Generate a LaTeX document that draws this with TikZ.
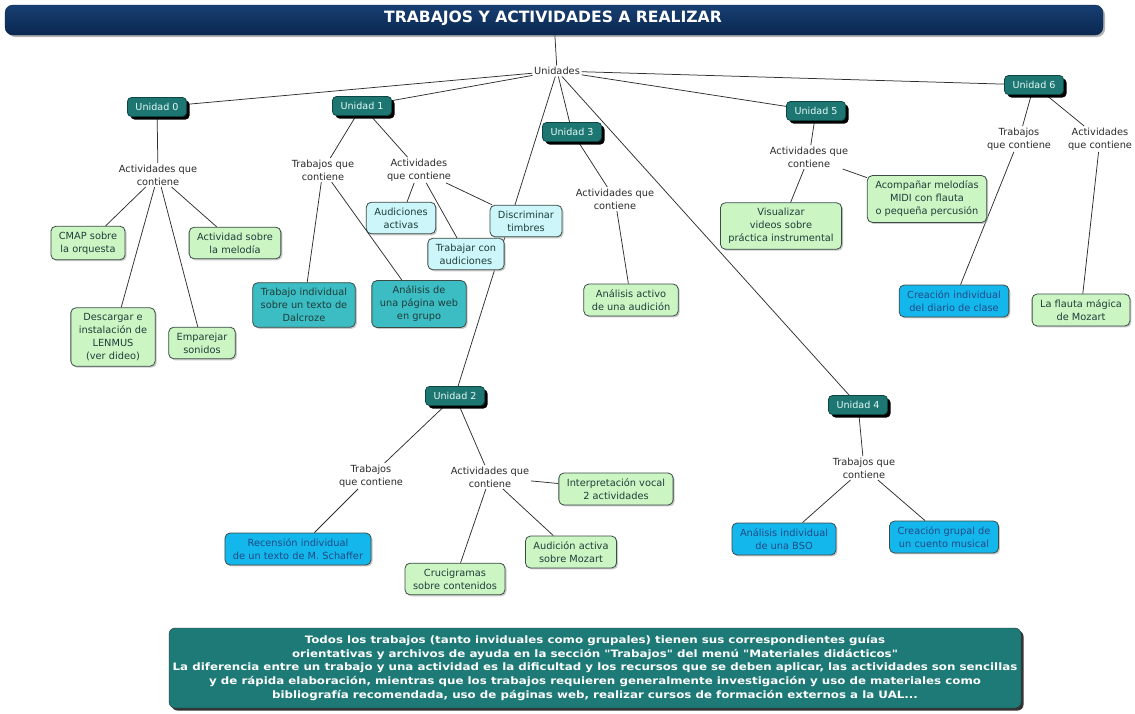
\documentclass[tikz,border=0pt]{standalone}
\usepackage{fontspec}
\setmainfont{DejaVu Sans}
\newfontfamily\widefont[FakeStretch=1.16]{DejaVu Sans}
\usetikzlibrary{shadows}
\pgfdeclarelayer{bg}
\pgfsetlayers{bg,main}
\definecolor{unitfill}{HTML}{1D7672}
\definecolor{unitdraw}{HTML}{0C4643}
\definecolor{unittext}{HTML}{E6FAF6}
\definecolor{greenfill}{HTML}{CCF5C4}
\definecolor{tealfill}{HTML}{3CBDC3}
\definecolor{cyanfill}{HTML}{CCF6FA}
\definecolor{bluefill}{HTML}{14B7EC}
\definecolor{boxdraw}{HTML}{3B4B45}
\definecolor{darktext}{HTML}{1F3D3A}
\definecolor{bluetext}{HTML}{1F4A85}
\definecolor{labeltext}{HTML}{2A2A2A}
\definecolor{linecol}{HTML}{2E2E2E}
\definecolor{titletop}{HTML}{173F72}
\definecolor{titlebot}{HTML}{0A2750}
\definecolor{bottomfill}{HTML}{1E7A77}
\tikzset{
  unit/.style={draw=unitdraw, fill=unitfill, rounded corners=4pt, text=unittext,
    font=\fontsize{9.6}{11}\selectfont, minimum height=19pt, inner xsep=8pt, inner ysep=2pt,
    line width=0.8pt, drop shadow={shadow xshift=3pt, shadow yshift=-3pt, fill=black, opacity=1}},
  box/.style={draw=boxdraw, rounded corners=5pt, align=center,
    font=\fontsize{9.8}{13}\selectfont, inner xsep=8pt, inner ysep=5.5pt, line width=0.8pt,
    drop shadow={shadow xshift=1.5pt, shadow yshift=-1.5pt, fill=black!35, opacity=0.6}},
  greenbox/.style={box, fill=greenfill, text=darktext},
  tealbox/.style={box, fill=tealfill, text=darktext},
  cyanbox/.style={box, fill=cyanfill, text=darktext},
  bluebox/.style={box, fill=bluefill, text=bluetext},
  lbl/.style={align=center, font=\fontsize{9.8}{13}\selectfont, text=labeltext, inner sep=1.5pt},
  conn/.style={draw=linecol, line width=0.75pt}
}
\begin{document}
\begin{tikzpicture}[x=1pt,y=-1pt]
\useasboundingbox (0,0) rectangle (1135,713);
% title
\node[draw=titlebot, top color=titletop, bottom color=titlebot, rounded corners=8pt,
  minimum width=1098pt, minimum height=30pt,
  drop shadow={shadow xshift=2pt, shadow yshift=-2pt, fill=black!50, opacity=0.6}] (title) at (554,20) {};
\node[text=white, font=\fontsize{15.6}{17}\bfseries] (titletext) at (553,18.5) {TRABAJOS Y ACTIVIDADES A REALIZAR};
\node[lbl] (unid) at (557,71) {Unidades};
% units
\node[unit] (u0) at (157,107) {Unidad 0};
\node[unit] (u1) at (362,106) {Unidad 1};
\node[unit] (u3) at (572,132) {Unidad 3};
\node[unit] (u5) at (816,111) {Unidad 5};
\node[unit] (u6) at (1034,85) {Unidad 6};
\node[unit] (u2) at (455,396) {Unidad 2};
\node[unit] (u4) at (858,405) {Unidad 4};
% unit 0
\node[lbl] (a0) at (158,175) {Actividades que\\contiene};
\node[greenbox] (cmap) at (88,243) {CMAP sobre\\la orquesta};
\node[greenbox] (melod) at (235,243) {Actividad sobre\\la melodía};
\node[greenbox] (lenmus) at (113,337) {Descargar e\\instalación de\\LENMUS\\(ver dideo)};
\node[greenbox] (empar) at (202,343) {Emparejar\\sonidos};
% unit 1
\node[lbl] (t1) at (323,170) {Trabajos que\\contiene};
\node[lbl] (a1) at (419,170) {Actividades\\que contiene};
\node[tealbox] (dalc) at (304,305) {Trabajo individual\\sobre un texto de\\Dalcroze};
\node[tealbox] (web) at (419,304) {Análisis de\\una página web\\en grupo};
\node[cyanbox] (audact) at (401,218) {Audiciones\\activas};
\node[cyanbox] (trabaud) at (466,254) {Trabajar con\\audiciones};
\node[cyanbox] (discr) at (526,221) {Discriminar\\timbres};
% unit 3
\node[lbl] (a3) at (615,199) {Actividades que\\contiene};
\node[greenbox] (analact) at (631,300) {Análisis activo\\de una audición};
% unit 5
\node[lbl] (a5) at (809,157) {Actividades que\\contiene};
\node[greenbox] (visual) at (781,226) {Visualizar\\videos sobre\\práctica instrumental};
\node[greenbox] (acomp) at (927,199) {Acompañar melodías\\MIDI con flauta\\o pequeña percusión};
% unit 6
\node[lbl] (t6) at (1019,139) {Trabajos\\que contiene};
\node[lbl] (a6) at (1100,139) {Actividades\\que contiene};
\node[bluebox] (diario) at (954,301) {Creación individual\\del diario de clase};
\node[greenbox] (flauta) at (1081,310) {La flauta mágica\\de Mozart};
% unit 2
\node[lbl] (t2) at (371,476) {Trabajos\\que contiene};
\node[lbl] (a2) at (490,477) {Actividades que\\contiene};
\node[bluebox] (recen) at (298,549) {Recensión individual\\de un texto de M. Schaffer};
\node[greenbox] (cruci) at (455,579) {Crucigramas\\sobre contenidos};
\node[greenbox] (audmoz) at (571,552) {Audición activa\\sobre Mozart};
\node[greenbox] (interp) at (616,489) {Interpretación vocal\\2 actividades};
% unit 4
\node[lbl] (t4) at (864,468) {Trabajos que\\contiene};
\node[bluebox] (bso) at (784,539) {Análisis individual\\de una BSO};
\node[bluebox] (cuento) at (944,537) {Creación grupal de\\un cuento musical};
% bottom note
\node[draw=black!80, fill=bottomfill, rounded corners=6pt, minimum width=852pt, minimum height=80pt,
  text=white, align=center, font=\widefont\fontsize{10.2}{13.9}\selectfont\bfseries, inner sep=2pt,
  drop shadow={shadow xshift=2.5pt, shadow yshift=-2.5pt, fill=black, opacity=0.8}] (note) at (595,668)
  {Todos los trabajos (tanto inviduales como grupales) tienen sus correspondientes guías\\
   orientativas y archivos de ayuda en la sección "Trabajos" del menú "Materiales didácticos"\\
   La diferencia entre un trabajo y una actividad es la dificultad y los recursos que se deben aplicar, las actividades son sencillas\\
   y de rápida elaboración, mientras que los trabajos requieren generalmente investigación y uso de materiales como\\
   bibliografía recomendada, uso de páginas web, realizar cursos de formación externos a la UAL...};
% connectors
\begin{pgfonlayer}{bg}
\draw[conn] (title) -- (unid);
\foreach \u in {u0,u1,u2,u3,u4,u5,u6} \draw[conn] (unid) -- (\u);
\draw[conn] (u0) -- (a0);
\foreach \c in {cmap,melod,lenmus,empar} \draw[conn] (a0) -- (\c);
\draw[conn] (u1) -- (t1);
\draw[conn] (u1) -- (a1);
\draw[conn] (t1) -- (dalc);
\draw[conn] (t1) -- (web);
\foreach \c in {audact,trabaud,discr} \draw[conn] (a1) -- (\c);
\draw[conn] (u3) -- (a3);
\draw[conn] (a3) -- (analact);
\draw[conn] (u5) -- (a5);
\draw[conn] (a5) -- (visual);
\draw[conn] (a5) -- (acomp);
\draw[conn] (u6) -- (t6);
\draw[conn] (u6) -- (a6);
\draw[conn] (t6) -- (diario);
\draw[conn] (a6) -- (flauta);
\draw[conn] (u2) -- (t2);
\draw[conn] (u2) -- (a2);
\draw[conn] (t2) -- (recen);
\foreach \c in {cruci,audmoz,interp} \draw[conn] (a2) -- (\c);
\draw[conn] (u4) -- (t4);
\draw[conn] (t4) -- (bso);
\draw[conn] (t4) -- (cuento);
\end{pgfonlayer}
\end{tikzpicture}
\end{document}
